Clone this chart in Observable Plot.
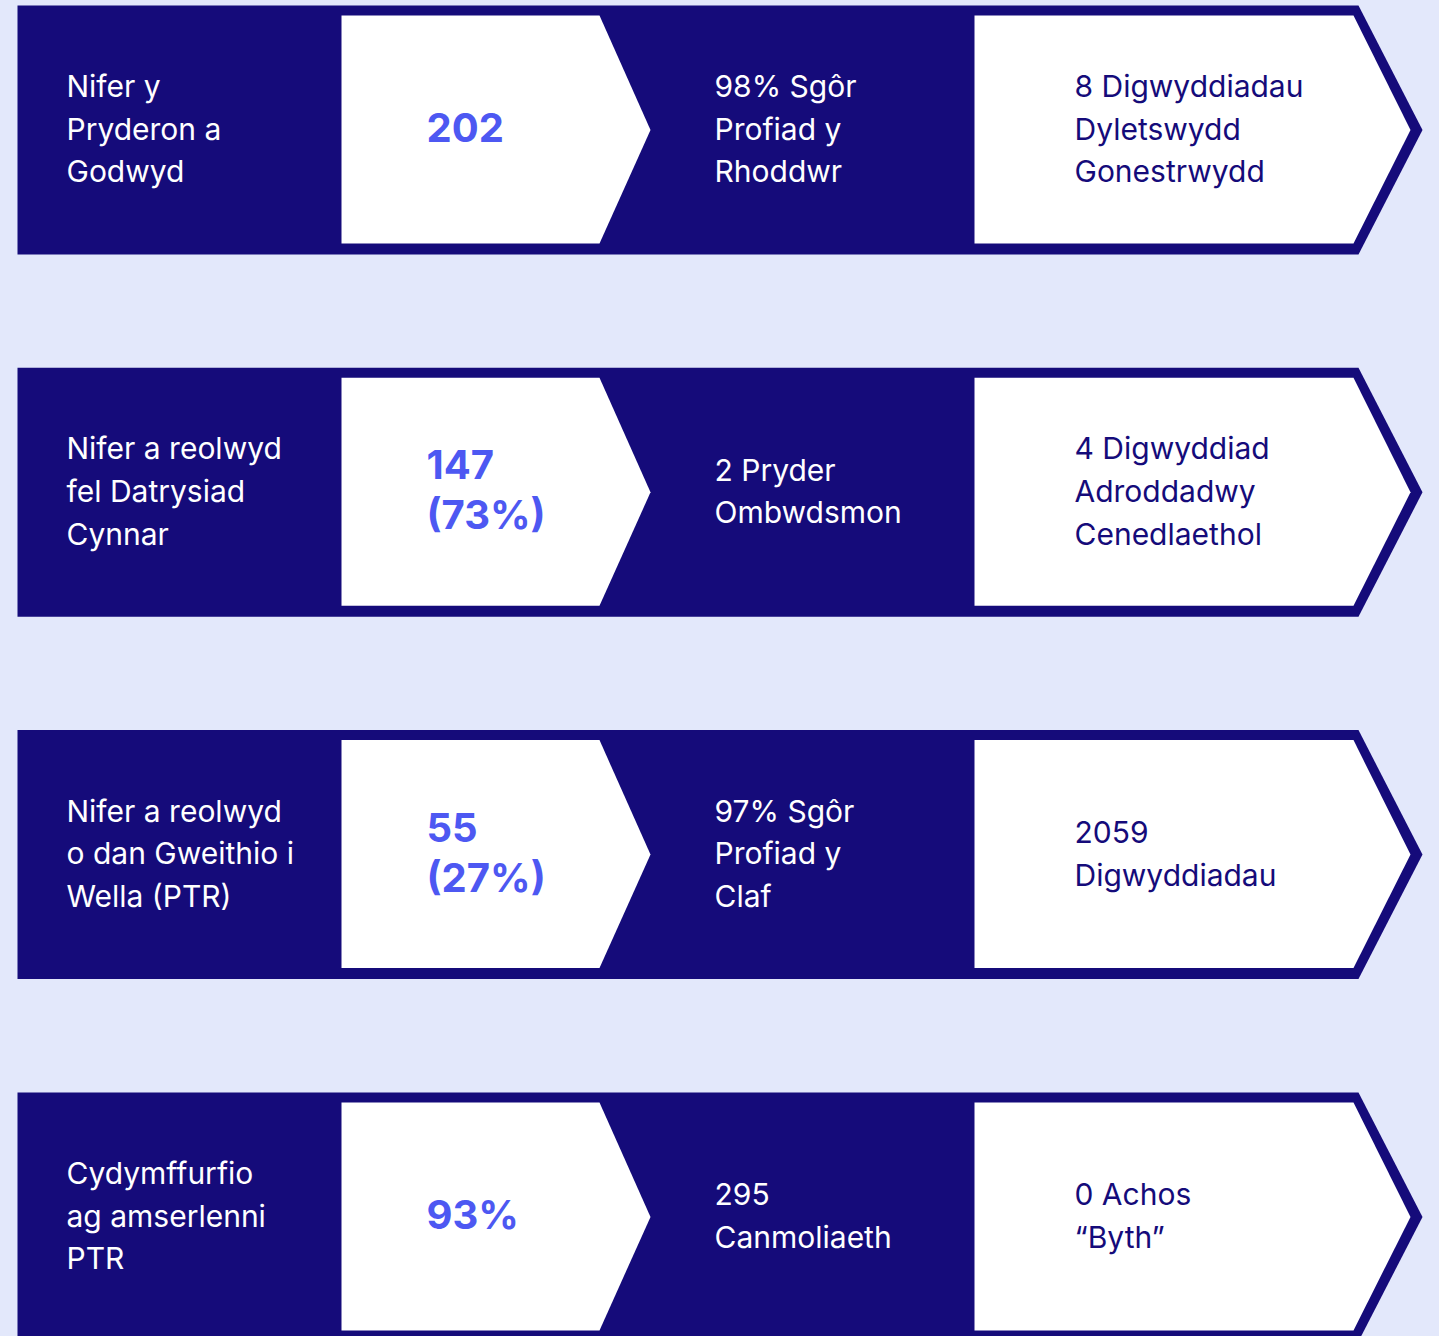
<!DOCTYPE html>
<html>
<head>
<meta charset="utf-8">
<script src="https://cdn.jsdelivr.net/npm/d3@7"></script>
<script src="https://cdn.jsdelivr.net/npm/@observablehq/plot@0.6"></script>
<style>
  html, body { margin: 0; padding: 0; background: #e3e8fb; }
  #chart svg { display: block; }
</style>
</head>
<body>
<div id="chart"></div>
<script>
// ---- Data ----
const labels = [
  "Nifer y\nPryderon a\nGodwyd",
  "Nifer a reolwyd\nfel Datrysiad\nCynnar",
  "Nifer a reolwyd\no dan Gweithio i\nWella (PTR)",
  "Cydymffurfio\nag amserlenni\nPTR"
];
const values = ["202", "147\n(73%)", "55\n(27%)", "93%"];
const stats = [
  "98% Sgôr\nProfiad y\nRhoddwr",
  "2 Pryder\nOmbwdsmon",
  "97% Sgôr\nProfiad y\nClaf",
  "295\nCanmoliaeth"
];
const outcomes = [
  "8 Digwyddiadau\nDyletswydd\nGonestrwydd",
  "4 Digwyddiad\nAdroddadwy\nCenedlaethol",
  "2059\nDigwyddiadau",
  "0 Achos\n“Byth”"
];

// ---- Layout ----
const W = 1439, H = 1336;
const NAVY = "#150b7a", BG = "#e3e8fb", ACCENT = "#4d58f2";
const rowTop = i => 5 + i * 362.3;
const rowH = 249;

const rows = labels.map((label, i) => ({
  i, label, value: values[i], stat: stats[i], outcome: outcomes[i],
  top: rowTop(i), bot: rowTop(i) + rowH, mid: rowTop(i) + rowH / 2
}));

function poly(id, pts) { return pts.map(([x, y], k) => ({id, x, y, k})); }
const outer = rows.flatMap(r => poly("o" + r.i, [
  [17, r.top], [1358, r.top], [1422, r.mid], [1358, r.bot], [17, r.bot], [17, r.top]
]));
const box1 = rows.flatMap(r => poly("a" + r.i, [
  [341, r.top + 10], [599, r.top + 10], [650, r.mid], [599, r.bot - 11], [341, r.bot - 11], [341, r.top + 10]
]));
const box2 = rows.flatMap(r => poly("b" + r.i, [
  [974, r.top + 10], [1353, r.top + 10], [1410, r.mid], [1353, r.bot - 11], [974, r.bot - 11], [974, r.top + 10]
]));

const font = "Inter, 'Noto Sans', sans-serif";
const bodyText = {textAnchor: "start", lineAnchor: "middle", fontSize: 30, lineHeight: 1.42,
  fontWeight: 400, dy: -4, letterSpacing: 0.3};

const chart = Plot.plot({
  width: W, height: H,
  margin: 0,
  x: {type: "linear", domain: [0, W], range: [0, W], axis: null},
  y: {type: "linear", domain: [0, H], range: [0, H], axis: null},
  style: {background: BG, fontFamily: font},
  marks: [
    Plot.line(outer, {x: "x", y: "y", z: "id", fill: NAVY, stroke: "none", curve: "linear"}),
    Plot.line(box1, {x: "x", y: "y", z: "id", fill: "white", stroke: "none", curve: "linear"}),
    Plot.line(box2, {x: "x", y: "y", z: "id", fill: "white", stroke: "none", curve: "linear"}),
    Plot.text(rows, {x: 66, y: "mid", text: "label", fill: "white", ...bodyText}),
    Plot.text(rows, {x: 426, y: "mid", text: "value", textAnchor: "start", lineAnchor: "middle",
      fill: ACCENT, fontSize: 40, lineHeight: 1.25, fontWeight: 700, dy: -4, letterSpacing: -2}),
    Plot.text(rows, {x: 714, y: "mid", text: "stat", fill: "white", ...bodyText}),
    Plot.text(rows, {x: 1074, y: "mid", text: "outcome", fill: NAVY, ...bodyText})
  ]
});
document.getElementById("chart").appendChild(chart);
</script>
</body>
</html>
